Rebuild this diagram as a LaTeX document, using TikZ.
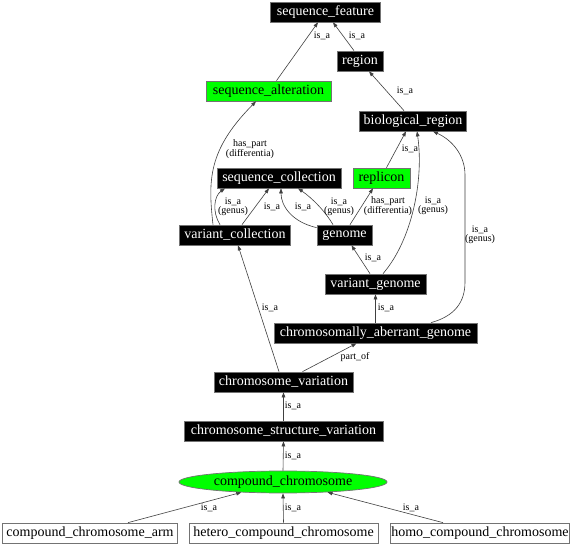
\documentclass[tikz,border=0pt]{standalone}
\usepackage{fontspec}
\setmainfont{Liberation Serif}
\newfontfamily\nodefont{Liberation Serif}
\usetikzlibrary{arrows.meta,shapes.geometric}
\tikzset{
  base/.style={draw=black!55, line width=0.7pt, minimum height=20pt, inner xsep=1pt, inner ysep=0pt,
    font=\nodefont\fontsize{14}{16}\selectfont},
  blk/.style={base, rectangle, fill=black, text=white},
  grn/.style={base, rectangle, fill=green},
  wht/.style={base, rectangle, fill=white, text=black},
  grnell/.style={base, ellipse, fill=green, minimum height=22pt, inner xsep=0pt},
  lbl/.style={font=\nodefont\fontsize{10}{8.8}\selectfont, inner sep=0pt, align=center, text=black},
  edge/.style={draw=black!75, line width=0.6pt, -{Triangle[length=5pt,width=3.6pt]}},
}
\begin{document}
\begin{tikzpicture}[x=1pt,y=-1pt]
\useasboundingbox (0,0) rectangle (576,545);
\fill[white] (0,0) rectangle (576,545);
% nodes
\node[blk, minimum width=110pt] (sf) at (325.5,12) {sequence\_feature};
\node[blk, minimum width=46pt] (reg) at (360,61) {region};
\node[grn, minimum width=125pt] (salt) at (268.5,91) {sequence\_alteration};
\node[blk, minimum width=107pt] (bio) at (413,121) {biological\_region};
\node[blk, minimum width=124pt] (scoll) at (279,178) {sequence\_collection};
\node[grn, minimum width=57pt] (rep) at (381.5,178) {replicon};
\node[blk, minimum width=111pt] (vcoll) at (235,235) {variant\_collection};
\node[blk, minimum width=55pt] (gen) at (344.5,235) {genome};
\node[blk, minimum width=101pt] (vgen) at (375.5,284) {variant\_genome};
\node[blk, minimum width=203pt] (cag) at (375.5,333) {chromosomally\_aberrant\_genome};
\node[blk, minimum width=139pt] (cvar) at (283.5,382) {chromosome\_variation};
\node[blk, minimum width=199pt] (csv) at (283.5,431) {chromosome\_structure\_variation};
\node[grnell, minimum width=208pt] (cc) at (283,482) {compound\_chromosome};
\node[wht, minimum width=175pt] (cca) at (90,533) {compound\_chromosome\_arm};
\node[wht, minimum width=189pt] (hcc) at (283.5,533) {hetero\_compound\_chromosome};
\node[wht, minimum width=178pt] (hocc) at (480,533) {homo\_compound\_chromosome};
% edges
\draw[edge] ([xshift=-6pt]reg.north) -- ([xshift=7.5pt]sf.south);
\draw[edge] ([xshift=8pt]salt.north) -- ([xshift=-7.5pt]sf.south);
\draw[edge] ([xshift=-9pt]bio.north) -- ([xshift=9pt]reg.south);
\draw[edge] ([xshift=-22pt]vcoll.north) .. controls (208,180) and (208,150) .. ([xshift=-12.5pt]salt.south);
\draw[edge] ([xshift=-15pt]vcoll.north) .. controls (212,212) and (214,196) .. ([xshift=-54pt]scoll.south);
\draw[edge] ([xshift=7pt]vcoll.north) -- ([xshift=-10pt]scoll.south);
\draw[edge] ([yshift=-3pt]gen.north west) .. controls (292,222) and (281,206) .. ([xshift=2pt]scoll.south);
\draw[edge] ([xshift=-11.5pt]gen.north) .. controls (325,211) and (312,198) .. ([xshift=19pt]scoll.south);
\draw[edge] ([xshift=5.5pt]gen.north) -- ([xshift=-8.5pt]rep.south);
\draw[edge] ([xshift=5pt]rep.north) -- ([xshift=-7pt]bio.south);
\draw[edge] ([xshift=7.5pt]vgen.north) .. controls (412,240) and (424,180) .. ([xshift=4pt]bio.south);
\draw[edge] ([xshift=55.5pt]cag.north) .. controls (455,316) and (465,302) .. (465,282)
   -- (465,175) .. controls (465,155) and (452,140) .. ([xshift=20pt]bio.south);
\draw[edge] ([xshift=-5.5pt]vgen.north) -- ([xshift=7pt]gen.south);
\draw[edge] (cag.north) -- (vgen.south);
\draw[edge] ([xshift=-4.5pt]cvar.north) -- ([xshift=3pt]vcoll.south);
\draw[edge] ([xshift=19pt]cvar.north) -- ([xshift=-19pt]cag.south);
\draw[edge] (csv.north) -- (cvar.south);
\draw[edge] (cc.north) -- (csv.south);
\draw[edge] ([xshift=38pt]cca.north) -- (cc.194);
\draw[edge] (hcc.north) -- (cc.south);
\draw[edge] ([xshift=-37pt]hocc.north) -- (cc.-13);
% labels
\node[lbl] (l1) at (357,36) {is\_a};
\node[lbl] (l2) at (322,36) {is\_a};
\node[lbl] (l3) at (405,91) {is\_a};
\node[lbl] (l4) at (250,149) {has\_part\\(differentia)};
\node[lbl] (l5) at (233,207) {is\_a\\(genus)};
\node[lbl] (l6) at (272,207) {is\_a};
\node[lbl] (l7) at (303,207) {is\_a};
\node[lbl] (l8) at (339,207) {is\_a\\(genus)};
\node[lbl] (l9) at (388,206) {has\_part\\(differentia)};
\node[lbl] (l10) at (410,149) {is\_a};
\node[lbl] (l11) at (433,206) {is\_a\\(genus)};
\node[lbl] (l12) at (480,235) {is\_a\\(genus)};
\node[lbl] (l13) at (373,258) {is\_a};
\node[lbl] (l14) at (386,308) {is\_a};
\node[lbl] (l15) at (270,308) {is\_a};
\node[lbl] (l16) at (355,357) {part\_of};
\node[lbl] (l17) at (293,406) {is\_a};
\node[lbl] (l18) at (293,456) {is\_a};
\node[lbl] (l19) at (209,508) {is\_a};
\node[lbl] (l20) at (293,508) {is\_a};
\node[lbl] (l21) at (411,508) {is\_a};
\end{tikzpicture}
\end{document}
